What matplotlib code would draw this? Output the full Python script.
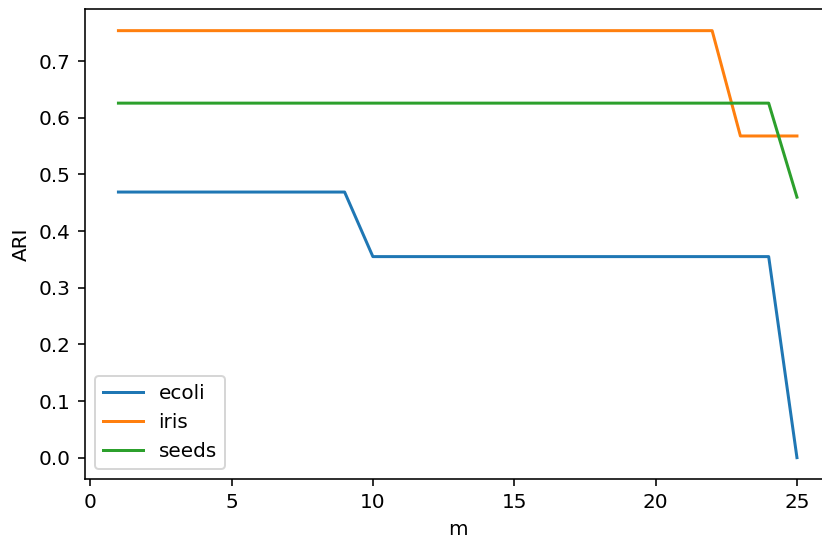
import numpy as np
import matplotlib.pyplot as plt

# number of clusters m and ARI scores per dataset
m_values = list(range(1, 26))
ecoli_ari = [0.469] * 9 + [0.355] * 15 + [0.0]
iris_ari = [0.754] * 22 + [0.568] * 3
seeds_ari = [0.626] * 24 + [0.460]

fig = plt.figure(figsize=(822 / 144, 544 / 144), dpi=144)
# axes run slightly past the right edge of the canvas
ax = fig.add_axes([0.1028, 0.1195, 0.908, 0.8634])

ax.plot(m_values, ecoli_ari, label='ecoli')
ax.plot(m_values, iris_ari, label='iris')
ax.plot(m_values, seeds_ari, label='seeds')

ax.set_xlabel('m')
ax.set_ylabel('ARI')
ax.legend(loc='lower left')

fig.savefig('out.png', dpi=144)
